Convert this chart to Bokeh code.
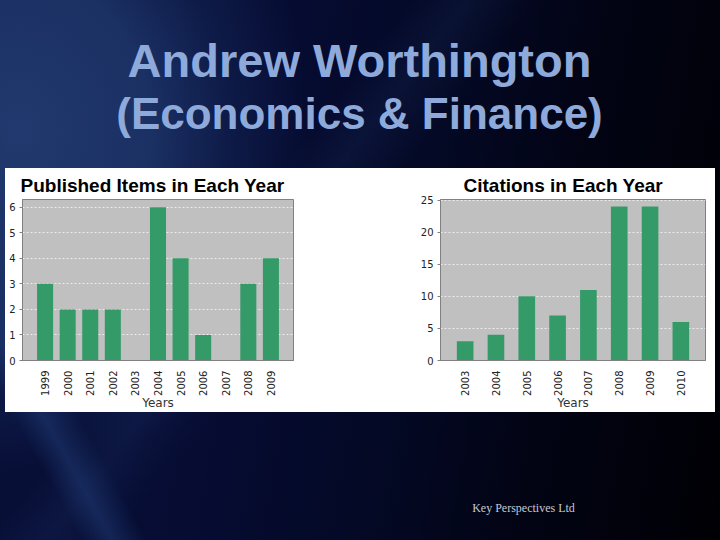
import math
from bokeh.plotting import figure
from bokeh.models import FactorRange, Range1d, Spacer, SingleIntervalTicker
from bokeh.layouts import column, row
from bokeh.core.properties import value
from bokeh.embed import file_html
from bokeh.resources import INLINE

# ---------------- data ----------------
slide_title_lines = ["Andrew Worthington", "(Economics & Finance)"]
footer_text = ["Key Perspectives Ltd"]

pub_title = "Published Items in Each Year"
pub_years = ["1999", "2000", "2001", "2002", "2003", "2004", "2005", "2006", "2007", "2008", "2009"]
pub_counts = [3, 2, 2, 2, 0, 6, 4, 1, 0, 3, 4]

cit_title = "Citations in Each Year"
cit_years = ["2003", "2004", "2005", "2006", "2007", "2008", "2009", "2010"]
cit_counts = [3, 4, 10, 7, 11, 24, 24, 6]

x_label = "Years"

# ---------------- styles ----------------
BAR = "#349a68"
PLOT_BG = "#c0c0c0"
AXIS = "#808080"
TITLE_BLUE = "#8eaadb"
W = 720
H_HEAD, H_PANEL, H_FOOT = 168, 244, 128


def make_chart(title, years, counts, width, ymax, interval, bar_w, pad,
               left, right, offset):
    p = figure(width=width, height=H_PANEL,
               x_range=FactorRange(*years, range_padding=pad, range_padding_units="absolute"),
               y_range=Range1d(0, ymax),
               output_backend="svg", toolbar_location=None,
               min_border_left=left, min_border_right=right,
               min_border_top=31, min_border_bottom=50,
               border_fill_color="white", background_fill_color=PLOT_BG,
               outline_line_color=AXIS, outline_line_width=1)
    p.title.text = title
    p.title.text_font = "Liberation Sans"
    p.title.text_font_size = "19px"
    p.title.text_font_style = "bold"
    p.title.text_color = "black"
    p.title.align = "left"
    p.title.offset = offset
    p.title.standoff = 7

    p.vbar(x=years, top=counts, width=bar_w, color=BAR, line_color=None)

    p.xgrid.grid_line_color = None
    p.ygrid.grid_line_color = "#ececec"
    p.ygrid.grid_line_dash = "2 2"
    p.ygrid.grid_line_width = 1

    xa = p.xaxis[0]
    xa.major_label_orientation = math.pi / 2
    xa.major_tick_line_color = None
    xa.minor_tick_line_color = None
    xa.axis_line_color = AXIS
    xa.major_label_text_font = "DejaVu Sans"
    xa.major_label_text_font_size = "10px"
    xa.major_label_text_color = "#222222"
    xa.major_label_standoff = 4
    xa.axis_label = x_label
    xa.axis_label_text_font = "DejaVu Sans"
    xa.axis_label_text_font_size = "12px"
    xa.axis_label_text_font_style = "normal"
    xa.axis_label_text_color = "#333333"
    xa.axis_label_standoff = -3

    ya = p.yaxis[0]
    ya.ticker = SingleIntervalTicker(interval=interval, num_minor_ticks=0)
    ya.axis_line_color = AXIS
    ya.major_tick_line_color = AXIS
    ya.major_tick_out = 3
    ya.major_tick_in = 0
    ya.minor_tick_line_color = None
    ya.major_label_text_font = "DejaVu Sans"
    ya.major_label_text_font_size = "10px"
    ya.major_label_text_color = "#222222"
    ya.major_label_standoff = 4
    return p


chart1 = make_chart(pub_title, pub_years, pub_counts, 295, 6.3, 1, 0.71, 0.5,
                    17, 7, -2)
chart2 = make_chart(cit_title, cit_years, cit_counts, 305, 25.1, 5, 0.54, 0.3,
                    30, 10, 23)


def blank_fig(height):
    f = figure(width=W, height=height, x_range=Range1d(0, W), y_range=Range1d(height, 0),
               title=None, output_backend="svg", toolbar_location=None,
               x_axis_type=None, y_axis_type=None, min_border=0,
               border_fill_alpha=0, background_fill_alpha=0, outline_line_color=None)
    f.grid.grid_line_color = None
    return f


# header with slide title
head = blank_fig(H_HEAD)
head.text(x=[359, 359], y=[60, 113], text=slide_title_lines,
          text_font=value("Liberation Sans"), text_font_style="bold",
          text_font_size=["47px", "44px"], text_color=TITLE_BLUE,
          text_align="center", text_baseline="alphabetic")

# footer
foot = blank_fig(H_FOOT)
foot.text(x=[523], y=[95], text=footer_text,
          text_font=value("Liberation Serif"), text_font_size="12px",
          text_color="#c8c8d2", text_align="center", text_baseline="middle")

gap = Spacer(width=110, height=H_PANEL)
panel = row(chart1, gap, chart2, spacing=0,
            styles={"background-color": "white", "margin-left": "5px"})

BG = ("linear-gradient(61deg, rgba(0,0,0,0) 8%, rgba(35,65,125,0.45) 11%, rgba(0,0,0,0) 14.5%), "
      "linear-gradient(128deg, rgba(0,0,0,0) 36%, rgba(45,75,140,0.14) 41%, rgba(0,0,0,0) 47%), "
      "radial-gradient(ellipse 290px 340px at 20px 130px, rgba(33,57,110,1) 0%, "
      "rgba(28,50,102,0.95) 45%, rgba(20,38,88,0.55) 72%, rgba(10,20,60,0) 100%), "
      "linear-gradient(100deg, #08113a 0%, #060c32 35%, #040926 55%, #020414 75%, #000004 100%)")

layout = column(head, panel, foot, spacing=0, styles={"background": BG})

open("out.html", "w").write(file_html(layout, INLINE))
